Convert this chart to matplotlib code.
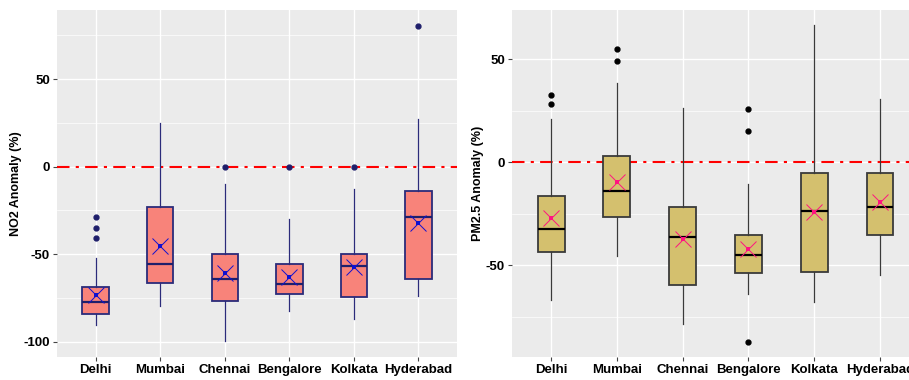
import numpy as np
import matplotlib.pyplot as plt
from matplotlib.ticker import MultipleLocator

plt.rcParams['font.family'] = ['Liberation Sans', 'DejaVu Sans']
plt.rcParams['axes.unicode_minus'] = False

cities = ["Delhi", "Mumbai", "Chennai", "Bengalore", "Kolkata", "Hyderabad"]

# NO2 anomaly (%) box statistics per city
no2_whislo = [-90.5, -79.4, -99.6, -82.3, -87.2, -74.1]
no2_q1 = [-84.2, -66.7, -76.6, -72.8, -74.5, -64.0]
no2_med = [-77.1, -55.8, -64.4, -66.9, -56.8, -28.8]
no2_q3 = [-68.6, -23.2, -50.1, -55.4, -50.1, -13.9]
no2_whishi = [-52.0, 24.8, -10.1, -29.7, -12.8, 27.4]
no2_mean = [-73.5, -45.3, -61.0, -62.9, -57.1, -32.0]
no2_fliers = [[-28.6, -35.0, -41.0], [], [-0.3], [-0.3], [-0.3], [80.4]]

# PM2.5 anomaly (%) box statistics per city
pm_whislo = [-66.7, -45.5, -78.3, -63.8, -67.8, -54.5]
pm_q1 = [-43.5, -26.5, -59.4, -53.7, -53.4, -35.1]
pm_med = [-32.2, -14.1, -36.1, -45.1, -23.6, -21.7]
pm_q3 = [-16.3, 3.2, -21.8, -35.1, -5.2, -5.2]
pm_whishi = [20.7, 38.5, 26.5, -10.8, 66.5, 30.6]
pm_mean = [-27.2, -9.7, -37.1, -41.9, -24.1, -19.1]
pm_fliers = [[32.4, 28.2], [54.9, 49.0], [], [25.9, 14.9, -87.1], [], []]


def make_stats(lo, q1, med, q3, hi, fl):
    return [dict(whislo=a, q1=b, med=c, q3=d, whishi=e, fliers=f)
            for a, b, c, d, e, f in zip(lo, q1, med, q3, hi, fl)]


def gg_axes(ax, ylim):
    ax.set_facecolor('#EBEBEB')
    ax.set_xlim(0.4, 6.6)
    ax.set_ylim(*ylim)
    ax.yaxis.set_major_locator(MultipleLocator(50))
    ax.yaxis.set_minor_locator(MultipleLocator(25))
    ax.grid(True, which='major', color='white', lw=1.0)
    ax.grid(True, which='minor', axis='y', color='white', lw=0.5)
    ax.set_axisbelow(True)
    for s in ax.spines.values():
        s.set_visible(False)
    ax.tick_params(axis='both', which='major', length=3, color='#444444',
                   labelsize=9.5, labelcolor='black', pad=2)
    ax.tick_params(axis='y', which='minor', length=0)
    for lab in ax.get_xticklabels() + ax.get_yticklabels():
        lab.set_fontweight('bold')


def draw_panel(ax, stats, means, fill, edge, dot_col, med_col, mean_col, ylabel, ylim):
    pos = np.arange(1, len(cities) + 1)
    ax.axhline(0, color='red', lw=1.5, ls=(0, (6, 3, 1.5, 3)), zorder=1)
    ax.bxp(stats, positions=pos, widths=0.41, patch_artist=True,
           showcaps=False,
           boxprops=dict(facecolor=fill, edgecolor=edge, lw=1.3),
           medianprops=dict(color=med_col, lw=1.6),
           whiskerprops=dict(color=edge, lw=0.9),
           flierprops=dict(marker='o', markerfacecolor=dot_col, markeredgecolor=dot_col,
                           markersize=3.5, lw=0))
    ax.plot(pos, means, ls='none', marker='x', markersize=11, mew=0.7,
            color=mean_col, zorder=5)
    ax.plot(pos, means, ls='none', marker='s', markersize=3.5, mew=0,
            color=mean_col, zorder=6)
    ax.set_xticks(pos)
    ax.set_xticklabels(cities)
    ax.set_ylabel(ylabel, fontsize=9, fontweight='bold', labelpad=1)
    gg_axes(ax, ylim)


fig = plt.figure(figsize=(9.09, 3.80), dpi=100)
ax1 = fig.add_axes([0.0627, 0.0605, 0.4401, 0.9132])
ax2 = fig.add_axes([0.5630, 0.0605, 0.4485, 0.9132])

draw_panel(ax1, make_stats(no2_whislo, no2_q1, no2_med, no2_q3, no2_whishi, no2_fliers),
           no2_mean, '#F8837A', '#2B2B7A', '#1F1F6B', '#1F1F6B', '#1010D0',
           'NO2 Anomaly (%)', (-108.7, 89.5))
draw_panel(ax2, make_stats(pm_whislo, pm_q1, pm_med, pm_q3, pm_whishi, pm_fliers),
           pm_mean, '#D4C06E', '#3A3A3A', '#000000', '#000000', '#FF1480',
           'PM2.5 Anomaly (%)', (-94.5, 73.8))

fig.savefig('out.png', dpi=100)
